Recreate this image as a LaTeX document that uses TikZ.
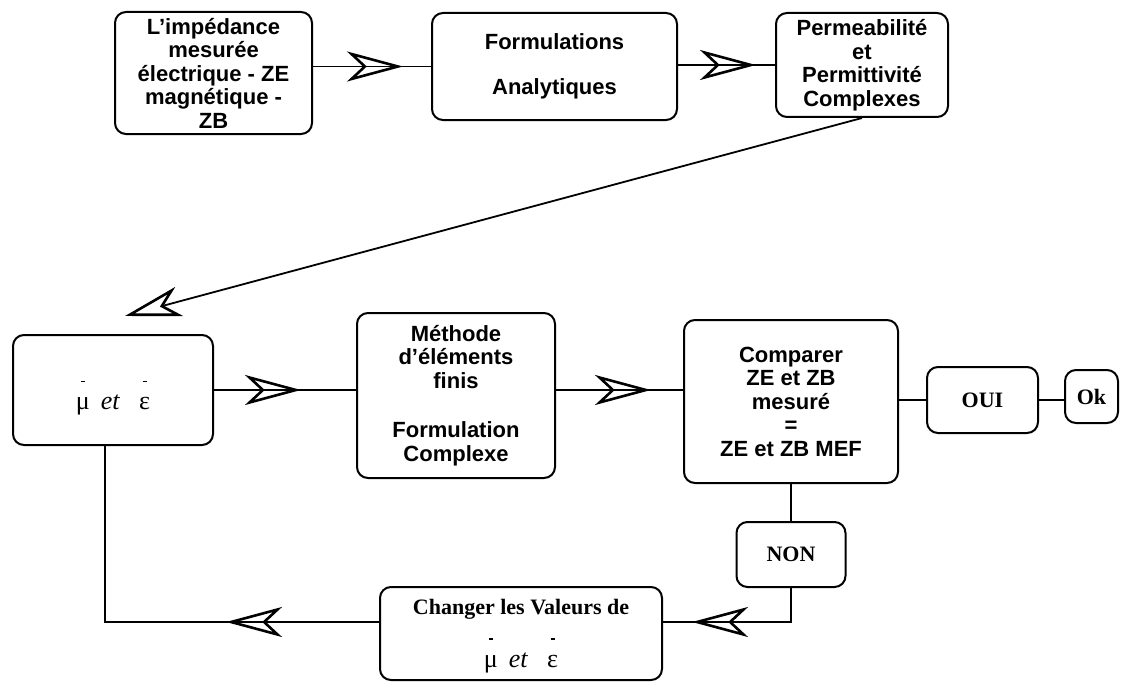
\documentclass[tikz,border=0pt]{standalone}
\usepackage{fontspec}
\setmainfont{Liberation Serif}
\setsansfont{Liberation Sans}
\usepackage{tikz}
\usetikzlibrary{arrows.meta, positioning, decorations.markings}

\newcommand{\barred}[1]{\leavevmode\ooalign{#1\cr\hidewidth\rule[28pt]{4pt}{1.2pt}\hidewidth\cr}}
\newcommand{\mueps}{{\mdseries\fontsize{26}{30}\selectfont\barred{μ}\hspace{11pt}\textit{et}\hspace{19pt}\barred{ε}}}

\begin{document}
\begin{tikzpicture}[
	x=1pt, y=-1pt,
	box/.style={rectangle, draw, line width=2pt, rounded corners=11pt, align=center, inner sep=0pt},
	sbox/.style={box, font=\sffamily\bfseries\fontsize{22}{23.5}\selectfont},
	tbox/.style={box, font=\bfseries\fontsize{22}{26}\selectfont},
	conn/.style={line width=1.8pt},
	arrow/.style={conn, postaction={decorate}, decoration={markings, mark=at position #1 with {\arrow{Stealth[open, length=56pt, width=30pt, inset=16pt, line width=2.6pt]}}}}
	]
	\useasboundingbox (0,0) rectangle (1123,682);
	
	% Nodes
	\node[sbox, minimum width=197pt, minimum height=122pt] (imp) at (213.5,73) {L’impédance\\mesurée\\électrique - ZE\\magnétique -\\ZB};
	\node[sbox, minimum width=245pt, minimum height=107pt] (form) at (554.5,66.5) {Formulations\\[22pt]Analytiques};
	\node[sbox, minimum width=172pt, minimum height=104pt] (perm) at (862,65) {Permeabilité\\et\\Permittivité\\Complexes};
	
	\node[tbox, font=\fontsize{22}{26}\selectfont, text height=40pt, minimum width=200pt, minimum height=110pt] (mu) at (113,390) {\mueps};
	\node[sbox, minimum width=198pt, minimum height=165pt] (meth) at (456,395.5) {Méthode\\d’éléments\\finis\\[26pt]Formulation\\Complexe};
	\node[sbox, minimum width=214pt, minimum height=163pt] (comp) at (791,401.5) {Comparer\\ZE et ZB\\mesuré\\=\\ZE et ZB MEF};
	\node[tbox, minimum width=111pt, minimum height=66pt] (oui) at (982.5,400) {OUI};
	\node[tbox, minimum width=53pt, minimum height=53pt] (ok) at (1091.5,396.5) {Ok};
	\node[tbox, minimum width=109pt, minimum height=65pt] (non) at (791,554.5) {NON};
	\node[tbox, minimum width=282pt, minimum height=93pt] (chg) at (521,633.5) {Changer les Valeurs de\\[27pt]\mueps};
	
	% Arrows
	\coordinate (end) at (125,316);
	\coordinate (turn1) at (791,622);
	\coordinate (turn2) at (105,622);
	\draw[arrow=90pt] (imp.east |- form) -- (form.west);
	\draw[arrow=78pt] (form.east |- perm) -- (perm.west);
	\draw[conn, -{Stealth[open, length=56pt, width=30pt, inset=16pt, line width=2.6pt]}] (perm.south) -- (end);
	\draw[arrow=87pt] (mu.east) -- (mu.east -| meth.west);
	\draw[arrow=95pt] (meth.east |- mu) -- (comp.west |- mu);
	\draw[conn] (comp.east |- oui) -- (oui.west);
	\draw[conn] (oui.east) -- (ok.west |- oui);
	\draw[conn] (comp.south) -- (non.north);
	\draw[arrow=133pt] (non.south) -- (turn1) -- (turn1 -| chg.east);
	\draw[arrow=153pt] (chg.west |- turn2) -- (turn2) -- (turn2 |- mu.south);
\end{tikzpicture}
\end{document}
